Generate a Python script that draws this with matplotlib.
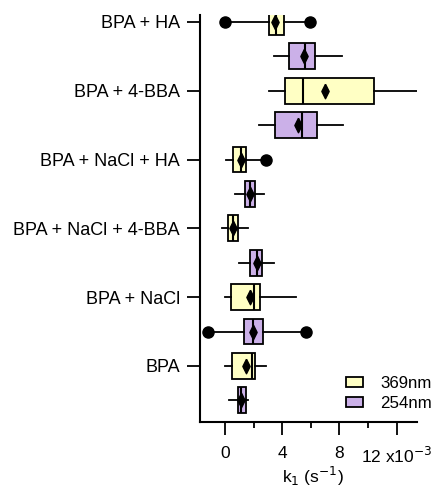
import matplotlib
matplotlib.use("Agg")
import matplotlib.pyplot as plt
from matplotlib.patches import Patch

plt.rcParams['font.family'] = ['Liberation Sans', 'DejaVu Sans']

categories = ["BPA + HA", "BPA + 4-BBA", "BPA + NaCl + HA",
              "BPA + NaCl + 4-BBA", "BPA + NaCl", "BPA"]
series = ["369nm", "254nm"]
colors = {"369nm": "#FFFFC4", "254nm": "#CBB0E8"}

# values in units of 1e-3 s^-1, per category: [369nm, 254nm]
q1 = [[3.08, 4.50], [4.20, 3.47], [0.58, 1.42], [0.23, 1.77], [0.40, 1.35], [0.51, 0.89]]
q3 = [[4.13, 6.29], [10.44, 6.46], [1.45, 2.07], [0.93, 2.61], [2.47, 2.68], [2.12, 1.45]]
med = [[3.55, 5.59], [5.43, 5.41], [1.12, 1.75], [0.54, 2.21], [2.05, 1.98], [1.91, 1.12]]
mean = [[3.52, 5.52], [7.02, 5.13], [1.12, 1.75], [0.54, 2.21], [1.72, 1.98], [1.47, 1.12]]
wlo = [[0.00, 3.45], [3.10, 2.40], [0.07, 0.70], [-0.19, 0.96], [0.02, -1.17], [0.02, 0.30]]
whi = [[5.94, 8.16], [13.40, 8.23], [2.89, 2.70], [1.58, 3.45], [4.94, 5.64], [2.87, 1.61]]
fliers = [[[0.00, 5.94], []], [[], []], [[2.89], []], [[], []], [[], [-1.17, 5.64]], [[], []]]

fig = plt.figure(figsize=(4.35, 4.92), dpi=100)
ax = fig.add_axes([200/435, 1-421.7/492, 216.7/435, 406.7/492])

diamond = [(0, 1), (0.5, 0), (0, -1), (-0.5, 0), (0, 1)]

for i in range(len(categories)):
    for j, s in enumerate(series):
        st = dict(q1=q1[i][j], q3=q3[i][j], med=med[i][j], mean=mean[i][j],
                  whislo=wlo[i][j], whishi=whi[i][j], fliers=fliers[i][j])
        pos = 2 * i + j
        ax.bxp([st], positions=[pos], widths=0.75, vert=False, patch_artist=True,
               showmeans=True, showcaps=False, showfliers=True,
               boxprops=dict(facecolor=colors[s], edgecolor='black', linewidth=1.3),
               medianprops=dict(color='black', linewidth=1.5),
               whiskerprops=dict(color='black', linewidth=1.3),
               meanprops=dict(marker=diamond, markerfacecolor='black',
                              markeredgecolor='black', markersize=10.5, zorder=5),
               flierprops=dict(marker='o', markerfacecolor='black',
                               markeredgecolor='black', markersize=8))

ax.set_xlim(-1.75, 13.4)
ax.set_ylim(11.62, -0.2)
ax.set_yticks([2 * i for i in range(len(categories))])
ax.set_yticklabels(categories, fontsize=13)
ax.set_xticks([0, 4, 8, 12])
ax.set_xticklabels(["0", "4", "8", "12 x10$^{-3}$"], fontsize=12.5)
ax.set_xticks([2, 6, 10], minor=True)
ax.tick_params(axis='both', which='major', direction='out', length=9.5, width=1.3)
ax.tick_params(axis='y', pad=5)
ax.tick_params(axis='x', which='major', pad=8)
ax.tick_params(axis='x', which='minor', direction='out', length=4.5, width=1.3)
ax.tick_params(axis='y', which='minor', left=False)

for side in ['top', 'right']:
    ax.spines[side].set_visible(False)
for side in ['left', 'bottom']:
    ax.spines[side].set_linewidth(1.5)

ax.set_xlabel("k$_1$ (s$^{-1}$)", fontsize=12.5)
ax.xaxis.set_label_coords(0.52, -0.105)

handles = [Patch(facecolor=colors[s], edgecolor='black', linewidth=1.3, label=s)
           for s in series]
ax.legend(handles=handles, loc='upper left', bbox_to_anchor=(0.675, 0.112),
          frameon=False, fontsize=12.2, handlelength=1.0, handleheight=0.55,
          handletextpad=1.0, labelspacing=0.3, borderpad=0, borderaxespad=0)

fig.savefig("out.png", dpi=100)
